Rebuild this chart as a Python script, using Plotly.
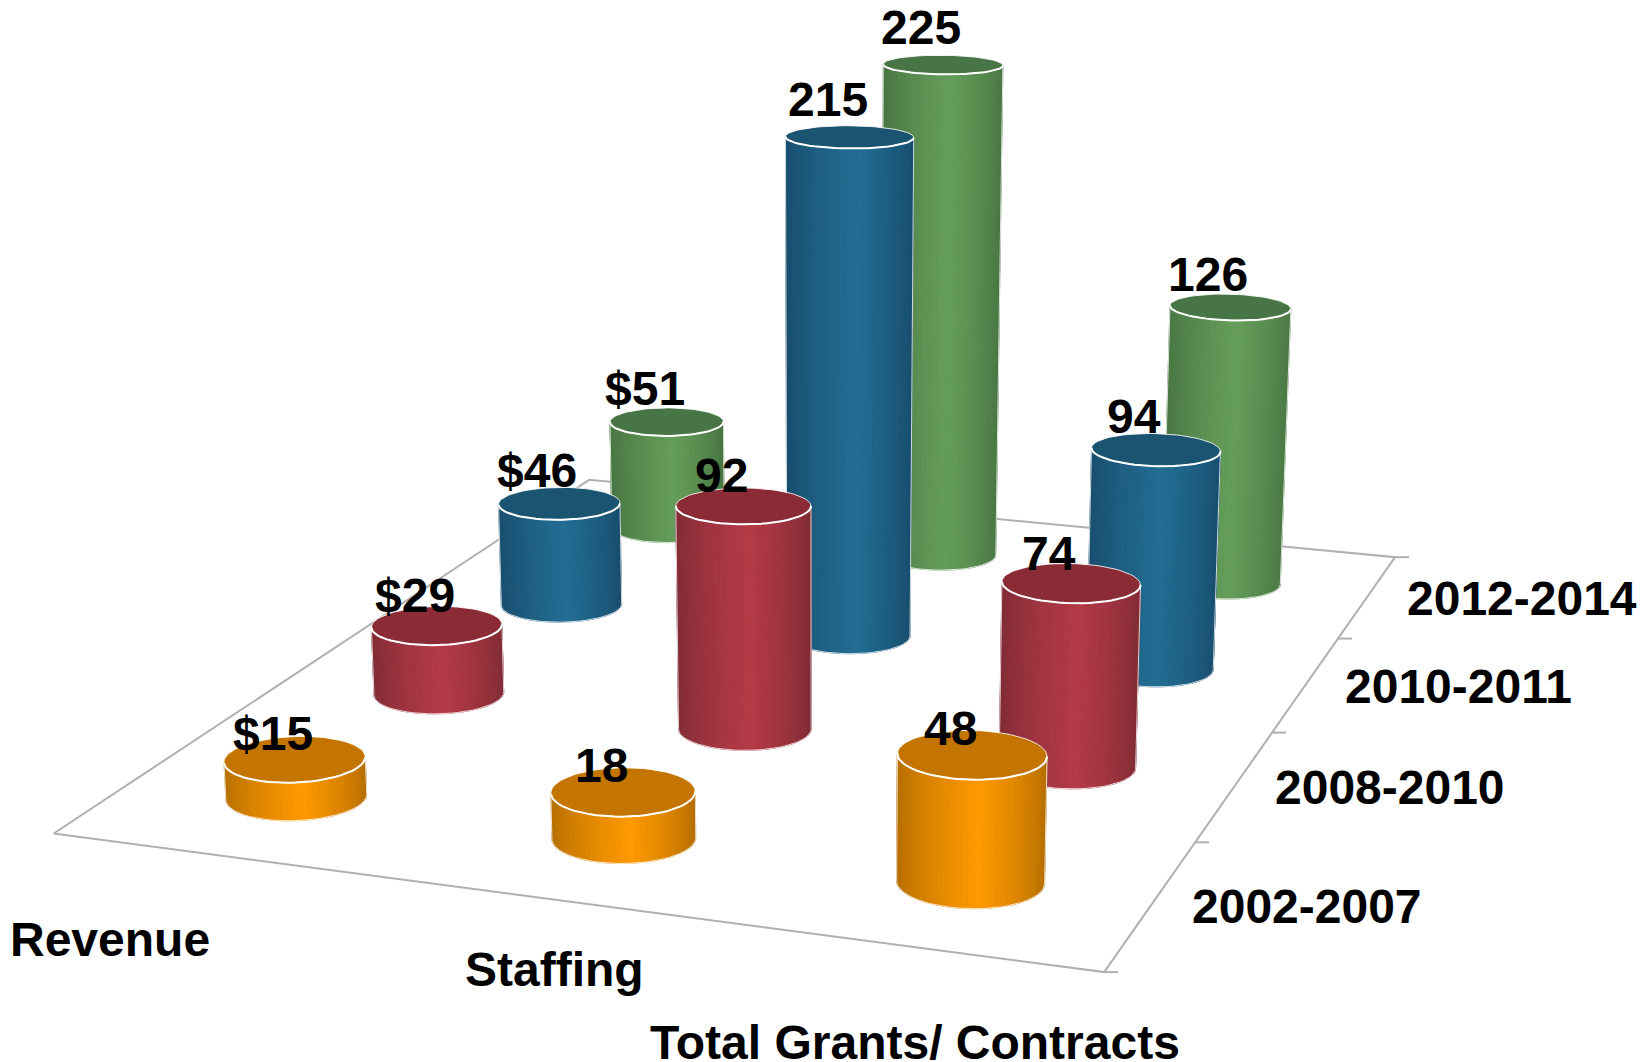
import numpy as np
import plotly.graph_objects as go

W, H = 1649, 1062
S = W / 1568

# ---- data ----
categories = ["Revenue", "Staffing", "Total Grants/ Contracts"]
periods = ["2002-2007", "2008-2010", "2010-2011", "2012-2014"]
revenue = [15, 29, 46, 51]
staffing = [18, 92, 215, 225]
grants = [48, 74, 94, 126]
labels_rev = ["$15", "$29", "$46", "$51"]
series = [revenue, staffing, grants]

# ---- styles and the chart's 3-D view (3x4 projection of category, period, value) ----
VALUE_MAX = 250
VIEW = np.array([956.04369, 732.5349, -44.85854, 53.67168,
                 55.5221, -193.1891, -682.7836, 833.4664,
                 -0.08551, 0.33432, -0.05454, 1.0]).reshape(3, 4)
RADIUS = (0.0663, 0.05)
PALETTE = [("#b06b00", "#ff9900", "#c47500"), ("#7c2a33", "#b53a47", "#8a2b36"),
           ("#174a6a", "#226d93", "#1b5470"), ("#44703f", "#659e5a", "#477545")]
GREY = "#b0b0b0"
CAT_POS = [(105, 893), (527, 922), (870, 991)]
PER_POS = [(1243, 862), (1322, 749), (1387, 653), (1447, 569)]
LABEL_YSHIFT = [26, 30, 33, 33]
FONT = dict(family="Liberation Sans", size=48, color="black")


def project(P):
    P = np.asarray(P, float)
    Q = np.c_[P, np.ones(len(P))] @ VIEW.T
    return Q[:, :2] / Q[:, 2:]


def h2r(h):
    return np.array([int(h[i:i + 2], 16) for i in (1, 3, 5)], float)


fig = go.Figure()


def line(x, y, color, w):
    fig.add_trace(go.Scatter(x=x, y=y, mode="lines", line=dict(color=color, width=w),
                             hoverinfo="skip", showlegend=False))


floor = project([[0, 0, 0], [1, 0, 0], [1, 1, 0], [0, 1, 0], [0, 0, 0]])
line(floor[:, 0], floor[:, 1], GREY, 2)
for v in np.arange(len(periods) + 1) / len(periods):
    q = project([[1, v, 0]])[0]
    line([q[0], q[0] + 14], [q[1], q[1]], GREY, 2)

N = 72
T = np.linspace(0, 2 * np.pi, N, endpoint=False)
order = sorted(((d, c) for c in range(len(series)) for d in range(len(periods))),
               key=lambda t: (-t[0], t[1]))
for d, c in order:
    val = series[c][d]
    cu, cv = (c + .5) / len(series), (d + .5) / len(periods)
    dk, lt, tp = PALETTE[d]
    dk_, lt_ = h2r(dk), h2r(lt)
    ru = cu + RADIUS[0] * np.cos(T)
    rv = cv + RADIUS[1] * np.sin(T)
    Pb = project(np.c_[ru, rv, np.zeros(N)])
    Pt = project(np.c_[ru, rv, np.full(N, val / VALUE_MAX)])
    xmin = min(Pt[:, 0].min(), Pb[:, 0].min())
    xmax = max(Pt[:, 0].max(), Pb[:, 0].max())
    # facets facing the viewer, taken in one unbroken run round the circle
    faces = [((Pb[(i + 1) % N, 0] - Pb[i, 0]) * (Pt[i, 1] - Pb[i, 1])
              - (Pb[(i + 1) % N, 1] - Pb[i, 1]) * (Pt[i, 0] - Pb[i, 0])) < 0 for i in range(N)]
    start = next(i for i in range(N) if faces[i] and not faces[i - 1])
    run = []
    i = start
    while faces[i % N] and len(run) < N:
        run.append(i % N)
        i += 1
    for i in run:
        j = (i + 1) % N
        a, b, g, e = Pb[i], Pb[j], Pt[j], Pt[i]
        s = ((a[0] + b[0] + g[0] + e[0]) / 4 - xmin) / (xmax - xmin)
        t = np.clip(1 - abs(s - .55) / (.55 if s < .55 else .45), 0, 1) ** .7
        hx = "#%02x%02x%02x" % tuple(int(round(x)) for x in dk_ + (lt_ - dk_) * t)
        fig.add_trace(go.Scatter(x=[a[0], b[0], g[0], e[0], a[0]], y=[a[1], b[1], g[1], e[1], a[1]],
                                 mode="lines", fill="toself", fillcolor=hx,
                                 line=dict(color=hx, width=1), hoverinfo="skip", showlegend=False))
    idx = run + [(run[-1] + 1) % N]
    # silhouette edges and base rim
    for k in (idx[0], idx[-1]):
        line([Pt[k, 0], Pb[k, 0]], [Pt[k, 1], Pb[k, 1]], "rgba(255,255,255,0.8)", 1)
    line(Pb[idx, 0], Pb[idx, 1], "rgba(255,255,255,0.8)", 1)
    # cap
    closed = list(range(N)) + [0]
    fig.add_trace(go.Scatter(x=Pt[closed, 0], y=Pt[closed, 1], mode="lines", fill="toself", fillcolor=tp,
                             line=dict(color="rgba(255,255,255,0.85)", width=1), hoverinfo="skip", showlegend=False))
    line(Pt[idx, 0], Pt[idx, 1], "white", 2)

ann = []
for c, ser in enumerate(series):
    for d, val in enumerate(ser):
        q = project([[(c + .5) / len(series), (d + .5) / len(periods), val / VALUE_MAX]])[0]
        ann.append(dict(x=q[0], y=q[1], xref="x", yref="y",
                        text="<b>" + (labels_rev[d] if c == 0 else str(val)) + "</b>",
                        showarrow=False, xshift=-22, yshift=LABEL_YSHIFT[d] + (4 if val > 200 else 0), font=FONT,
                        xanchor="center", yanchor="middle"))
for txt, (x, y) in list(zip(categories, CAT_POS)) + list(zip(periods, PER_POS)):
    ann.append(dict(x=x * S, y=y * S, xref="x", yref="y", text="<b>" + txt + "</b>", showarrow=False,
                    font=FONT, xanchor="center", yanchor="middle"))

fig.update_layout(width=W, height=H, margin=dict(l=0, r=0, t=0, b=0), paper_bgcolor="white",
                  plot_bgcolor="white", showlegend=False, annotations=ann,
                  xaxis=dict(range=[0, W], visible=False, fixedrange=True),
                  yaxis=dict(range=[H, 0], visible=False, fixedrange=True))
fig.write_html("out.html", config=dict(displayModeBar=False),
               post_script="document.body.style.margin='0';document.body.style.overflow='hidden';")
